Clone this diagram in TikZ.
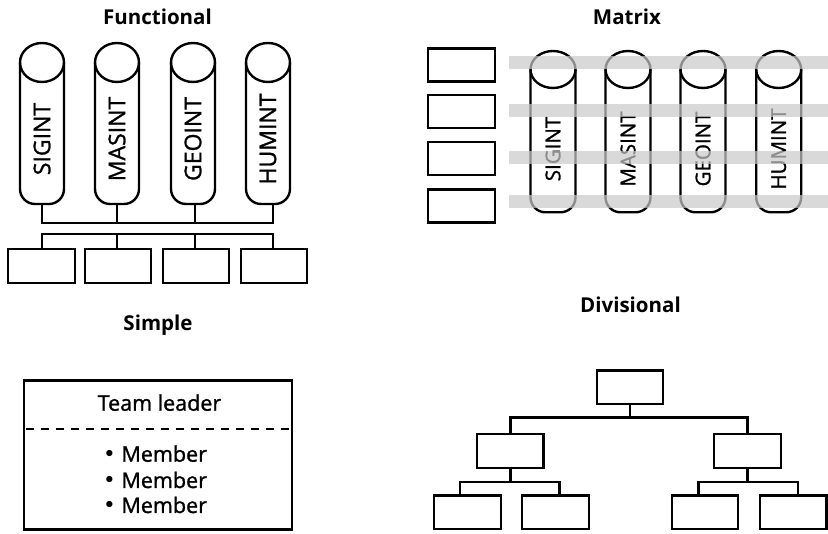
\documentclass[tikz,border=0pt]{standalone}
\usepackage{fontspec}
\setmainfont{Open Sans}
\newfontfamily\lblfont{Open Sans}[FakeBold=1.2]
\newfontfamily\dotfont{DejaVu Sans}
\usetikzlibrary{calc}
\begin{document}
\begin{tikzpicture}[x=1pt,y=1pt,
  line/.style={line width=2.4pt},
  box/.style={draw, line width=2.4pt, inner sep=0pt, minimum width=66.5pt, minimum height=33.5pt},
  title/.style={font=\fontsize{20.5}{24}\selectfont\bfseries, anchor=base, inner sep=0pt},
  lbl/.style={font=\lblfont\fontsize{21.5}{26}\selectfont, inner sep=0pt},
  cyllbl/.style={inner sep=0pt, rotate=90},
  band/.style={fill=black!21, fill opacity=0.7, draw=none},
]
\useasboundingbox (0,0) rectangle (828,-534);

% ---------- titles ----------
\node[title] (tfun) at (157.5,-25) {Functional};
\node[title] (tmat) at (627,-25) {Matrix};
\node[title] (tsim) at (158,-330.7) {Simple};
\node[title] (tdiv) at (630.5,-312.7) {Divisional};

% ---------- functional ----------
\foreach \cx/\lab/\sx [count=\i] in {42/SIGINT/42,117/MASINT/117,193/GEOINT/195,268/HUMINT/273}{
  \draw[line, rounded corners=15pt] (\cx-22,-62.5) -- (\cx-22,-204) -- (\cx+22,-204) -- (\cx+22,-62.5);
  \draw[line] (\cx,-62.5) ellipse [x radius=22, y radius=19.5];
  \node[cyllbl, font=\lblfont\fontsize{23}{27}\selectfont] (f\lab) at (\cx,-139) {\lab};
  \coordinate (fc\i) at (\sx,-204);
}
\foreach \x [count=\i] in {41.5,118,196,274}{
  \node[box] (fb\i) at (\x,-266) {};
}
\coordinate (fbarA) at (0,-223);
\coordinate (fbarB) at (0,-234);
\draw[line] (fc1) -- (fc1 |- fbarA) -- (fc4 |- fbarA) -- (fc4);
\draw[line] (fc2) -- (fc2 |- fbarA);
\draw[line] (fc3) -- (fc3 |- fbarA);
\draw[line] (fc1 |- fb1.north) -- (fc1 |- fbarB) -- (fc4 |- fbarB) -- (fc4 |- fb4.north);
\draw[line] (fc2 |- fb2.north) -- (fc2 |- fbarB);
\draw[line] (fc3 |- fb3.north) -- (fc3 |- fbarB);

% ---------- matrix ----------
\foreach \y [count=\i] in {65.2,111.8,158.5,206.2}{
  \node[box, minimum width=67pt, minimum height=33pt] (mb\i) at (461.3,-\y) {};
}
\foreach \cx/\lab in {553/SIGINT,628/MASINT,703/GEOINT,778.7/HUMINT}{
  \draw[line, rounded corners=15pt] (\cx-22.5,-69.5) -- (\cx-22.5,-212.3) -- (\cx+22.5,-212.3) -- (\cx+22.5,-69.5);
  \draw[line] (\cx,-69.5) ellipse [x radius=22.5, y radius=18.5];
  \node[cyllbl, font=\lblfont\fontsize{20.5}{24}\selectfont] (m\lab) at (\cx,-149) {\lab};
}
\foreach \y in {62.7,110.7,157.7,201.7}{
  \fill[band] (509,-\y+6.65) rectangle (828,-\y-6.65);
}

% ---------- simple ----------
\node[draw, line width=2.4pt, inner sep=0pt, minimum width=268pt, minimum height=149pt] (simple) at (157.7,-455) {};
\draw[line width=2.2pt, dash pattern=on 8pt off 7pt] ($(simple.north west)+(3,-49.7)$) -- ($(simple.north east)+(-3,-49.7)$);
\node[lbl, anchor=base] (lead) at (159.5,-410.7) {Team leader};
\node[lbl, anchor=base west] (mem1) at (103,-461.7) {{\dotfont•} Member};
\node[lbl, anchor=base west] (mem2) at (103,-488) {{\dotfont•} Member};
\node[lbl, anchor=base west] (mem3) at (103,-513) {{\dotfont•} Member};

% ---------- divisional ----------
\node[box] (d0) at (630,-387.3) {};
\node[box] (d1) at (510.3,-451) {};
\node[box] (d2) at (747.5,-451) {};
\node[box] (d11) at (467.5,-512.2) {};
\node[box] (d12) at (555.5,-512.2) {};
\node[box] (d21) at (705,-512.2) {};
\node[box] (d22) at (793.3,-512.2) {};
\coordinate (dbar0) at (0,-417.7);
\coordinate (dbar1) at (0,-482.3);
\coordinate (s11) at ($(d11.north)+(-7.5,0)$);
\coordinate (s12) at ($(d12.north)+(3.8,0)$);
\coordinate (s21) at ($(d21.north)+(-6.7,0)$);
\coordinate (s22) at ($(d22.north)+(4.4,0)$);
\draw[line] (d0.south) -- (d0.south |- dbar0);
\draw[line] (d1.north) -- (d1.north |- dbar0) -- (d2.north |- dbar0) -- (d2.north);
\draw[line] (d1.south) -- (d1.south |- dbar1);
\draw[line] (s11) -- (s11 |- dbar1) -- (s12 |- dbar1) -- (s12);
\draw[line] (d2.south) -- (d2.south |- dbar1);
\draw[line] (s21) -- (s21 |- dbar1) -- (s22 |- dbar1) -- (s22);
\end{tikzpicture}
\end{document}
